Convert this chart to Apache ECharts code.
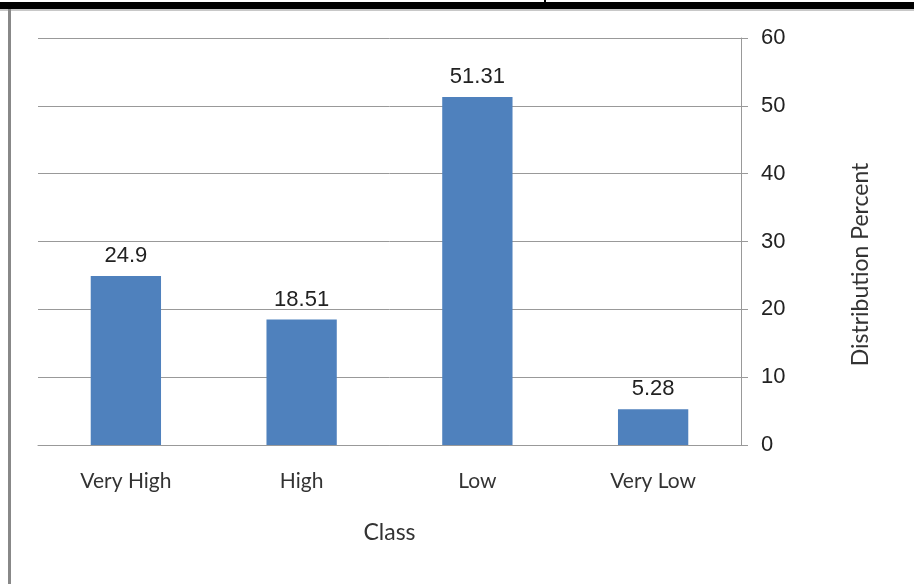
<!DOCTYPE html>
<html><head><meta charset="utf-8">
<script src="https://cdn.jsdelivr.net/npm/echarts@6/dist/echarts.min.js"></script>
<style>html,body{margin:0;padding:0;background:#fff}#c{width:914px;height:584px}</style>
</head><body><div id="c"></div>
<script>
const categories = ["Very High", "High", "Low", "Very Low"];
const values = [24.9, 18.51, 51.31, 5.28];
const valueLabels = ["24.9", "18.51", "51.31", "5.28"];
const xAxisTitle = "Class";
const yAxisTitle = "Distribution Percent";

const chart = echarts.init(document.getElementById('c'));
chart.setOption({
  animation: false,
  backgroundColor: '#fff',
  graphic: [
    {type: 'rect', shape: {x: 0, y: 2, width: 914, height: 7}, style: {fill: '#000'}},
    {type: 'rect', shape: {x: 544, y: 0, width: 2, height: 3}, style: {fill: '#000'}},
    {type: 'rect', shape: {x: 0, y: 9, width: 914, height: 2}, style: {fill: '#c8c8c8'}},
    {type: 'rect', shape: {x: 8, y: 9, width: 3, height: 575}, style: {fill: '#888'}}
  ],
  grid: {left: 38, right: 173, top: 38, bottom: 139},
  xAxis: {
    type: 'category',
    data: categories,
    name: xAxisTitle,
    nameLocation: 'middle',
    nameGap: 76,
    nameTextStyle: {fontFamily: 'Lato', fontSize: 23, color: '#333'},
    axisLine: {lineStyle: {color: '#999', width: 1}},
    axisTick: {length: 7, lineStyle: {color: '#999'}},
    axisLabel: {fontFamily: 'Lato', fontSize: 21, color: '#333', margin: 26}
  },
  yAxis: {
    type: 'value',
    position: 'right',
    min: 0, max: 60, interval: 10,
    name: yAxisTitle,
    nameLocation: 'middle',
    nameGap: 108,
    nameRotate: 90,
    nameTextStyle: {fontFamily: 'Lato', fontSize: 23, color: '#333', padding: [0, 46, 0, 0]},
    axisLine: {show: true, lineStyle: {color: '#999', width: 1}},
    axisTick: {show: true, length: 7, lineStyle: {color: '#999'}},
    axisLabel: {fontFamily: 'Liberation Sans', fontSize: 22, color: '#222', margin: 20},
    splitLine: {lineStyle: {color: '#999', width: 1}}
  },
  series: [{
    type: 'bar',
    data: values,
    barWidth: '40%',
    itemStyle: {color: '#4f81bd'},
    label: {
      show: true, position: 'top', distance: 9,
      fontFamily: 'Liberation Sans', fontSize: 22, color: '#222',
      formatter: p => valueLabels[p.dataIndex]
    }
  }]
});
</script></body></html>
